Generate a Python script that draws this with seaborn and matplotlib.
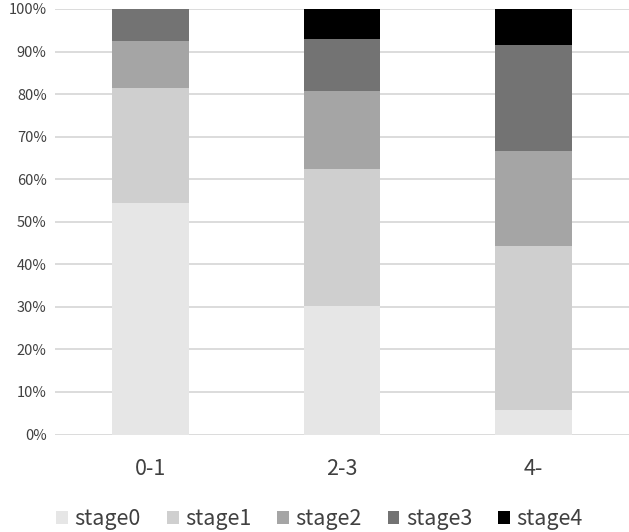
import numpy as np
import pandas as pd
import matplotlib
matplotlib.use('Agg')
import matplotlib.pyplot as plt
import seaborn as sns
from matplotlib.patches import Patch


# data (percent of each group)
groups = ['0-1', '2-3', '4-']
stages = ['stage0', 'stage1', 'stage2', 'stage3', 'stage4']
stage0 = [54.4, 30.2, 5.7]
stage1 = [27.0, 32.2, 38.7]
stage2 = [11.0, 18.4, 22.3]
stage3 = [7.6, 12.1, 24.8]
stage4 = [0.0, 7.1, 8.5]
yticks = [0, 10, 20, 30, 40, 50, 60, 70, 80, 90, 100]

colors = ['#e6e6e6', '#cfcfcf', '#a5a5a5', '#737373', '#000000']

df = pd.DataFrame({'group': groups, 'stage0': stage0, 'stage1': stage1,
                   'stage2': stage2, 'stage3': stage3, 'stage4': stage4})

sns.set_style('white')
plt.rcParams['font.family'] = ['Noto Sans CJK JP', 'DejaVu Sans']
textc = '#404040'

f = plt.figure(figsize=(6.29, 5.32), dpi=100)
ax = f.add_axes([55 / 629, 97.5 / 532, 574 / 629, 425.5 / 532])

bottom = np.zeros(len(groups))
for st, c in zip(stages, colors):
    sns.barplot(x='group', y=st, data=df, color=c, width=0.4, ax=ax,
                bottom=bottom.copy(), linewidth=0, saturation=1, zorder=3)
    bottom = bottom + df[st].values

ax.set_ylim(0, 100)
ax.set_xlim(-0.5, 2.5)
ax.set_yticks(yticks)
ax.set_yticklabels(['%d%%' % t for t in yticks], fontsize=10.5, color=textc)
ax.tick_params(axis='x', labelsize=15.5, colors=textc, pad=17, length=0)
ax.tick_params(axis='y', length=0, pad=6)
ax.grid(axis='y', color='#d9d9d9', linewidth=1.3, zorder=0)
ax.set_axisbelow(True)
ax.set_xlabel('')
ax.set_ylabel('')
for s in ax.spines.values():
    s.set_visible(False)

handles = [Patch(facecolor=c, edgecolor='none', label=s) for s, c in zip(stages, colors)]
f.legend(handles=handles, loc='center', bbox_to_anchor=(0.5 + 5 / 629, 12.5 / 532), ncol=5,
         frameon=False, fontsize=15.5, handlelength=0.55, handleheight=0.55,
         handletextpad=0.3, columnspacing=1.2, labelcolor=textc)

f.savefig('out.png', dpi=100)
